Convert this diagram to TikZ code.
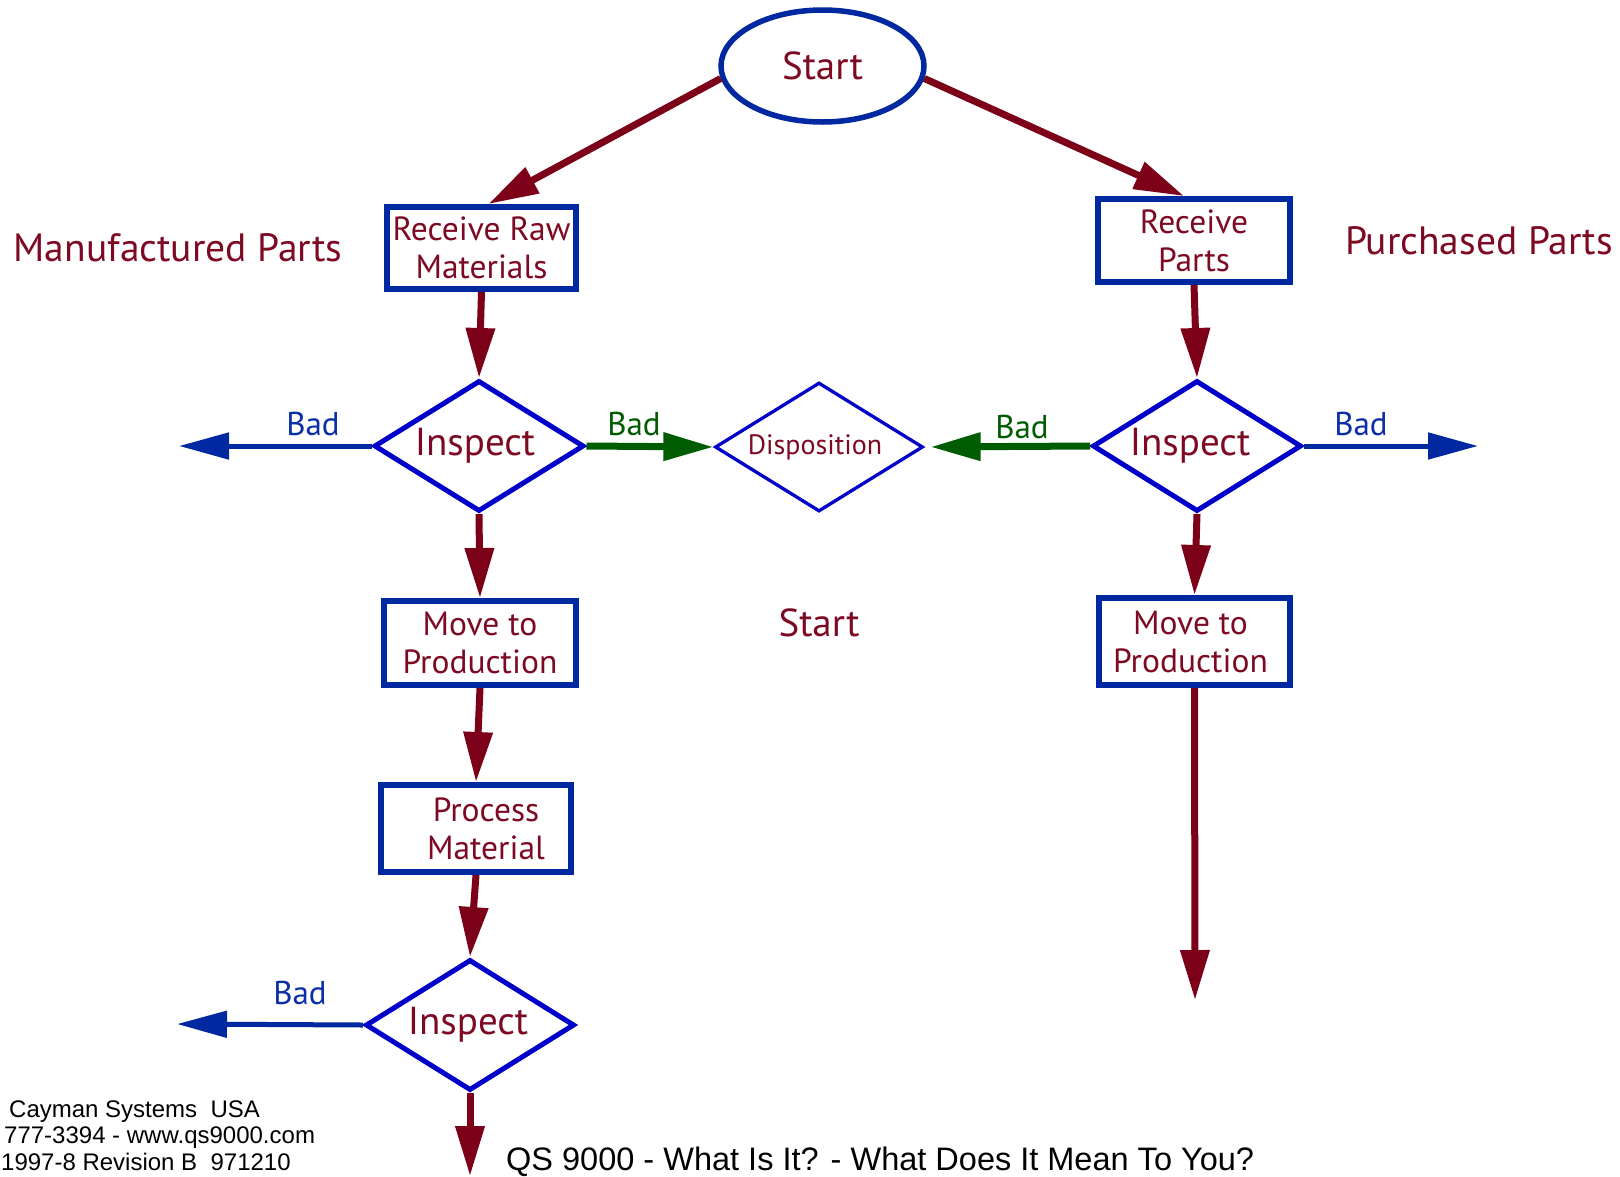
\documentclass[tikz,border=0pt]{standalone}
\usepackage{fontspec}
\setmainfont{PT Sans}
\newfontfamily\footfont{Liberation Sans}
\usetikzlibrary{shapes.geometric,arrows.meta}

\definecolor{flowred}{HTML}{7B0018}
\definecolor{labelred}{HTML}{7D0A22}
\definecolor{boxblue}{HTML}{0028A0}
\definecolor{diablue}{HTML}{0000C8}
\definecolor{badblue}{HTML}{0A2EA8}
\definecolor{badgreen}{HTML}{005C00}

\begin{document}
\begin{tikzpicture}[x=1pt,y=-1pt,
  stepbox/.style={rectangle, draw=boxblue, line width=6pt, fill=white, inner sep=0pt,
    align=center, text=labelred, font=\fontsize{33.5}{38}\selectfont},
  decision/.style={diamond, draw=diablue, line width=5pt, fill=white, inner sep=0pt,
    shape aspect=1.6, text=labelred, font=\fontsize{39}{42}\selectfont},
  sidelabel/.style={text=labelred, font=\fontsize{39.5}{44}\selectfont},
  flow/.style={draw=flowred, line width=7pt, -{Triangle[length=50pt,width=28pt]}},
  badflow/.style={draw=boxblue, line width=5pt, -{Triangle[length=50pt,width=26pt]}},
  dispflow/.style={draw=badgreen, line width=7pt, -{Triangle[length=50pt,width=27pt]}},
  badtext/.style={text=badblue, font=\fontsize{33}{36}\selectfont},
  greentext/.style={text=badgreen, font=\fontsize{33}{36}\selectfont},
  foot/.style={anchor=base west, inner sep=0pt, font=\footfont\fontsize{24}{27}\selectfont}
]
\useasboundingbox (0,0) rectangle (1620,1176);
\fill[white] (0,0) rectangle (1620,1176);

% start ellipse
\node[ellipse, draw=boxblue, line width=5.5pt, fill=white, minimum width=203pt,
  minimum height=112pt, inner sep=0pt, text=labelred, font=\fontsize{39}{42}\selectfont]
  (start) at (822.5,66) {Start};

% side headings
\node[sidelabel] (manu) at (178,248) {Manufactured Parts};
\node[sidelabel] (purch) at (1479,241) {Purchased Parts};

% process boxes
\node[stepbox, minimum width=189pt, minimum height=82pt] (rrm) at (481.5,248) {Receive Raw\\Materials};
\node[stepbox, minimum width=192pt, minimum height=83pt] (rp) at (1194,240.5) {Receive\\Parts};
\node[stepbox, minimum width=192pt, minimum height=84pt] (mtpl) at (480,643) {Move to\\Production};
\node[stepbox, minimum width=191pt, minimum height=87pt] (mtpr) at (1194.5,641.5) {\hspace*{-8pt}Move to\\\hspace*{-8pt}Production};
\node[stepbox, minimum width=190pt, minimum height=87pt] (pm) at (476,828.5) {\hspace*{20pt}Process\\\hspace*{20pt}Material};

% decisions (text sits a little left of centre)
\node[decision, minimum width=210pt, minimum height=131pt] (inspl) at (479,446) {\hspace*{-8pt}Inspect};
\node[decision, minimum width=209pt, minimum height=131pt] (inspr) at (1197,446) {\hspace*{-14pt}Inspect};
\node[decision, minimum width=209pt, minimum height=131pt] (inspb) at (470,1025) {\hspace*{-4pt}Inspect};
\node[decision, draw=diablue, line width=3.3pt, minimum width=208pt, minimum height=129pt,
  font=\fontsize{28}{31}\selectfont] (disp) at (819,447) {\hspace*{-8pt}Disposition};

% loose text in the middle
\node[text=labelred, font=\fontsize{39}{42}\selectfont] (midstart) at (819,623) {Start};

% free ends of connectors
\coordinate (leftout) at (179,446);
\coordinate (rightout) at (1478,446);
\coordinate (bottomleftout) at (177,1024);
\coordinate (bottomout) at (470,1176);
\coordinate (rightdown) at (1195,1000);

% main flow
\draw[flow] (start.187) -- ([xshift=7pt]rrm.north);
\draw[flow] (start.353) -- ([xshift=-10pt]rp.north);
\draw[flow] (rrm.south) -- (inspl.north);
\draw[flow] (inspl.south) -- (mtpl.north);
\draw[flow] (mtpl.south) -- (pm.north);
\draw[flow] (pm.south) -- (inspb.north);
\draw[flow] (inspb.south) -- (bottomout);
\draw[flow] (rp.south) -- (inspr.north);
\draw[flow] (inspr.south) -- (mtpr.north);
\draw[flow] (mtpr.south) -- (rightdown);

% rejects
\draw[badflow] (inspl.west) -- (leftout);
\draw[badflow] (inspr.east) -- (rightout);
\draw[badflow] (inspb.west) -- (bottomleftout);
\draw[dispflow] (inspl.east) -- (disp.west);
\draw[dispflow, shorten >=6pt] (inspr.west) -- (disp.east);

\node[badtext] (bad1) at (313,424) {Bad};
\node[badtext] (bad2) at (1361,424) {Bad};
\node[badtext] (bad3) at (300,993) {Bad};
\node[greentext] (bad4) at (634,424) {Bad};
\node[greentext] (bad5) at (1022,427) {Bad};

% footer
\node[foot] (foot1) at (9,1117) {Cayman Systems\ \ USA};
\node[foot] (foot2) at (4,1143) {777-3394 - www.qs9000.com};
\node[foot] (foot3) at (1,1170) {1997-8 Revision B\ \ 971210};
\node[anchor=base west, inner sep=0pt, font=\footfont\fontsize{32.5}{36}\selectfont]
  (title) at (506,1170) {QS 9000 - What Is It? - What Does It Mean To You?};
\end{tikzpicture}
\end{document}
